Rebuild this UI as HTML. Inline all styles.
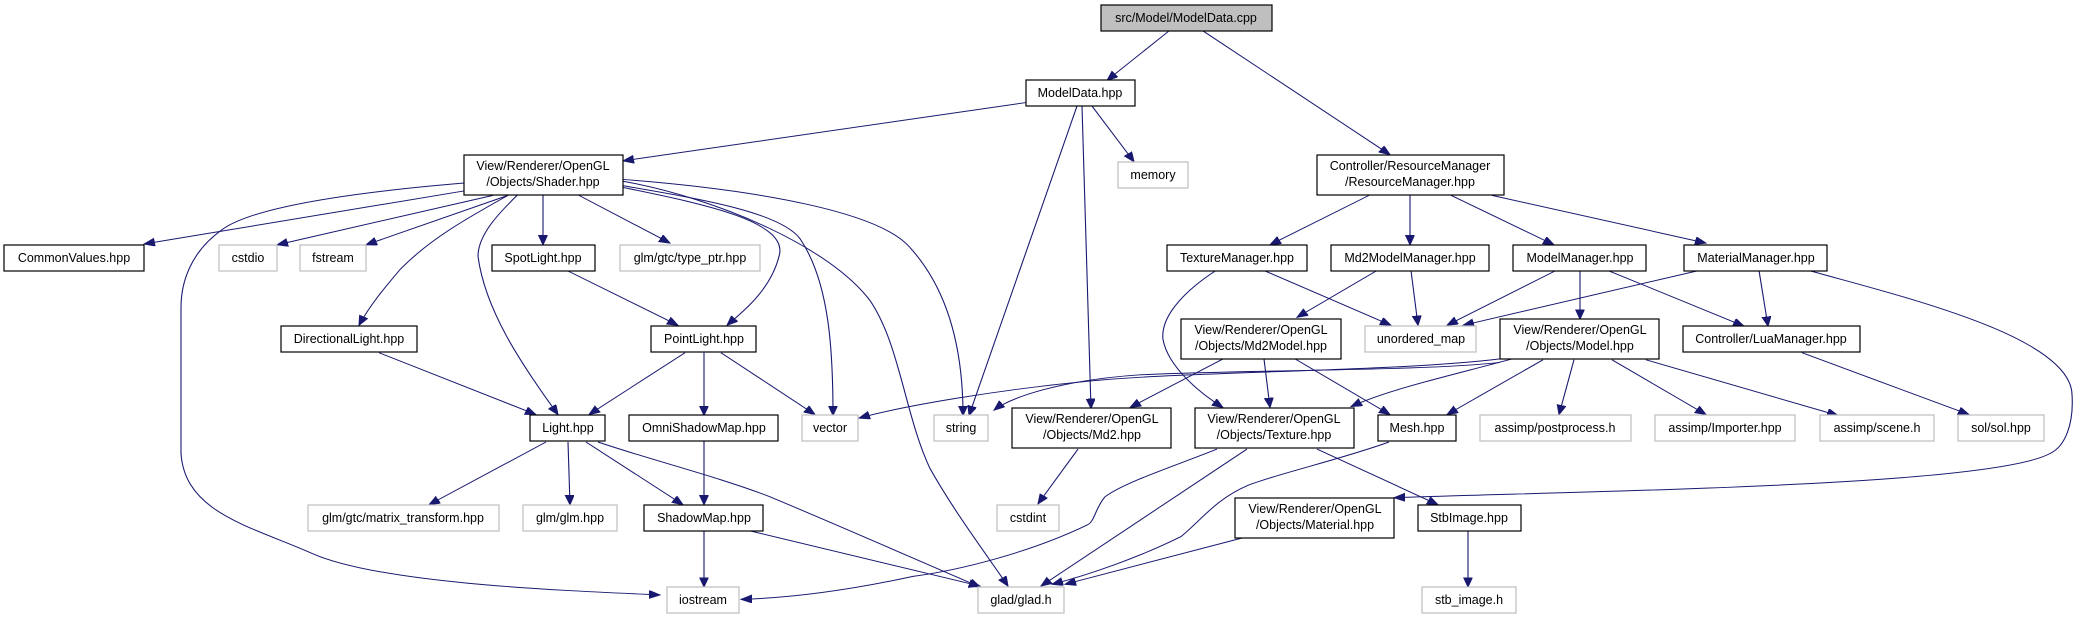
<!DOCTYPE html>
<html><head><meta charset="utf-8"><style>
html,body{margin:0;padding:0;background:#fff;overflow:hidden;}
svg{display:block;}
text{font-family:"Liberation Sans",Arial,sans-serif;font-size:12.5px;fill:#000;text-anchor:middle;}
.b{fill:#fff;stroke:#000;stroke-width:1.2;}
.g{fill:#fff;stroke:#bfbfbf;stroke-width:1.2;}
.e{fill:none;stroke:#191970;stroke-width:1.1;}
</style></head><body>
<svg width="2080" height="619" viewBox="0 0 2080 619" xmlns="http://www.w3.org/2000/svg">
<defs><marker id="a" markerUnits="userSpaceOnUse" markerWidth="12" markerHeight="10" refX="11" refY="4.5" orient="auto"><path d="M0,0 L11,4.5 L0,9 z" fill="#191970" stroke="#191970"/></marker></defs>
<g class="e" marker-end="url(#a)" transform="scale(1,0.884)">
<path d="M1169,35 L1107,91"/>
<path d="M1203,35 L1390,175"/>
<path d="M1026,116 L623,182"/>
<path d="M1092,120 L1134,183"/>
<path d="M1077,120 L969,470"/>
<path d="M1082,120 L1091,462"/>
<path d="M464,216 L144,276"/>
<path d="M493,221 L277,277"/>
<path d="M508,221 L366,277"/>
<path d="M508,221 C470,245 430,270 400,305 C385,325 370,345 359,368"/>
<path d="M517,221 C500,240 478,265 478,290 C485,350 520,410 558,469"/>
<path d="M543,221 L543,277"/>
<path d="M579,221 L670,275"/>
<path d="M623,212 C700,230 790,250 779,290 C770,330 740,355 727,368"/>
<path d="M623,210 C700,225 780,240 800,270 C830,320 833,400 833,470"/>
<path d="M623,205 C720,225 830,280 870,340 C900,390 905,470 930,530 C955,580 985,625 1008,663"/>
<path d="M623,203 C760,215 880,240 910,280 C950,330 963,400 963,470"/>
<path d="M464,207 C380,215 260,230 223,259 C190,285 181,320 181,348 L181,513 C185,580 250,595 312,626 C380,660 560,668 660,673"/>
<path d="M567,306 L678,368"/>
<path d="M685,399 L589,469"/>
<path d="M721,399 L815,469"/>
<path d="M704,399 L704,470"/>
<path d="M704,499 L704,571"/>
<path d="M379,399 L536,469"/>
<path d="M546,500 L429,571"/>
<path d="M568,500 L570,571"/>
<path d="M586,500 L683,571"/>
<path d="M598,500 C650,520 720,540 770,562 C840,595 920,635 980,664"/>
<path d="M704,600 L704,664"/>
<path d="M748,600 L980,663"/>
<path d="M1369,221 L1270,277"/>
<path d="M1410,221 L1410,277"/>
<path d="M1451,221 L1554,277"/>
<path d="M1492,221 L1706,275"/>
<path d="M1264,306 L1391,368"/>
<path d="M1216,306 C1190,325 1160,355 1163,384 C1168,415 1200,445 1223,461"/>
<path d="M1377,306 L1297,359"/>
<path d="M1411,306 L1418,368"/>
<path d="M1556,306 L1447,368"/>
<path d="M1580,306 L1580,361"/>
<path d="M1608,306 L1744,369"/>
<path d="M1699,306 L1463,368"/>
<path d="M1759,306 L1768,369"/>
<path d="M1809,306 C1900,335 2070,380 2072,446 C2074,480 2065,505 2050,513 C1990,550 1600,555 1394,563"/>
<path d="M1500,406 C1400,420 1200,420 1100,430 C1000,440 900,460 859,473"/>
<path d="M1500,410 C1420,420 1250,418 1140,424 C1060,430 1010,450 994,464"/>
<path d="M1512,406 C1450,425 1390,440 1351,460"/>
<path d="M1543,407 L1447,469"/>
<path d="M1574,407 L1559,469"/>
<path d="M1612,407 L1706,469"/>
<path d="M1646,407 L1838,470"/>
<path d="M1802,399 L1969,469"/>
<path d="M1223,406 L1130,461"/>
<path d="M1264,406 L1270,461"/>
<path d="M1295,406 L1390,469"/>
<path d="M1078,508 L1038,570"/>
<path d="M1217,508 C1180,525 1125,545 1105,562 C1095,575 1095,590 1087,594 C1030,625 960,645 913,652 C860,665 800,676 741,678"/>
<path d="M1247,508 L1041,663"/>
<path d="M1317,508 L1438,571"/>
<path d="M1389,500 C1340,520 1280,535 1248,549 C1215,565 1200,590 1181,607 C1140,630 1090,650 1052,661"/>
<path d="M1244,608 L1065,661"/>
<path d="M1468,600 L1468,664"/>
</g>
<rect x="1101" y="5" width="171" height="26" fill="#bfbfbf" stroke="#000" stroke-width="1.2"/>
<text x="1186" y="22">src/Model/ModelData.cpp</text>
<rect class="b" x="1026" y="80" width="109" height="26"/><text x="1080" y="97">ModelData.hpp</text>
<rect class="g" x="1118" y="162" width="70" height="26"/><text x="1153" y="179">memory</text>
<rect class="b" x="464" y="155" width="159" height="40"/><text x="543" y="170">View/Renderer/OpenGL</text><text x="543" y="186">/Objects/Shader.hpp</text>
<rect class="b" x="1317" y="155" width="187" height="40"/><text x="1410" y="170">Controller/ResourceManager</text><text x="1410" y="186">/ResourceManager.hpp</text>
<rect class="b" x="4" y="245" width="140" height="26"/><text x="74" y="262">CommonValues.hpp</text>
<rect class="g" x="219" y="245" width="58" height="26"/><text x="248" y="262">cstdio</text>
<rect class="g" x="300" y="245" width="66" height="26"/><text x="333" y="262">fstream</text>
<rect class="b" x="492" y="245" width="103" height="26"/><text x="543" y="262">SpotLight.hpp</text>
<rect class="g" x="620" y="245" width="140" height="26"/><text x="690" y="262">glm/gtc/type_ptr.hpp</text>
<rect class="b" x="1167" y="245" width="140" height="26"/><text x="1237" y="262">TextureManager.hpp</text>
<rect class="b" x="1331" y="245" width="158" height="26"/><text x="1410" y="262">Md2ModelManager.hpp</text>
<rect class="b" x="1513" y="245" width="133" height="26"/><text x="1580" y="262">ModelManager.hpp</text>
<rect class="b" x="1684" y="245" width="143" height="26"/><text x="1756" y="262">MaterialManager.hpp</text>
<rect class="b" x="281" y="326" width="136" height="26"/><text x="349" y="343">DirectionalLight.hpp</text>
<rect class="b" x="651" y="326" width="105" height="26"/><text x="704" y="343">PointLight.hpp</text>
<rect class="b" x="1181" y="319" width="160" height="40"/><text x="1261" y="334">View/Renderer/OpenGL</text><text x="1261" y="350">/Objects/Md2Model.hpp</text>
<rect class="g" x="1365" y="326" width="111" height="26"/><text x="1421" y="343">unordered_map</text>
<rect class="b" x="1500" y="319" width="159" height="40"/><text x="1580" y="334">View/Renderer/OpenGL</text><text x="1580" y="350">/Objects/Model.hpp</text>
<rect class="b" x="1683" y="326" width="177" height="26"/><text x="1771" y="343">Controller/LuaManager.hpp</text>
<rect class="b" x="530" y="415" width="75" height="26"/><text x="568" y="432">Light.hpp</text>
<rect class="b" x="629" y="415" width="149" height="26"/><text x="704" y="432">OmniShadowMap.hpp</text>
<rect class="g" x="802" y="415" width="56" height="26"/><text x="830" y="432">vector</text>
<rect class="g" x="934" y="415" width="54" height="26"/><text x="961" y="432">string</text>
<rect class="b" x="1012" y="408" width="159" height="40"/><text x="1092" y="423">View/Renderer/OpenGL</text><text x="1092" y="439">/Objects/Md2.hpp</text>
<rect class="b" x="1195" y="408" width="159" height="40"/><text x="1274" y="423">View/Renderer/OpenGL</text><text x="1274" y="439">/Objects/Texture.hpp</text>
<rect class="b" x="1378" y="415" width="78" height="26"/><text x="1417" y="432">Mesh.hpp</text>
<rect class="g" x="1480" y="415" width="151" height="26"/><text x="1555" y="432">assimp/postprocess.h</text>
<rect class="g" x="1655" y="415" width="140" height="26"/><text x="1725" y="432">assimp/Importer.hpp</text>
<rect class="g" x="1820" y="415" width="114" height="26"/><text x="1877" y="432">assimp/scene.h</text>
<rect class="g" x="1958" y="415" width="86" height="26"/><text x="2001" y="432">sol/sol.hpp</text>
<rect class="g" x="308" y="505" width="191" height="26"/><text x="403" y="522">glm/gtc/matrix_transform.hpp</text>
<rect class="g" x="523" y="505" width="94" height="26"/><text x="570" y="522">glm/glm.hpp</text>
<rect class="b" x="644" y="505" width="119" height="26"/><text x="704" y="522">ShadowMap.hpp</text>
<rect class="g" x="997" y="505" width="62" height="26"/><text x="1028" y="522">cstdint</text>
<rect class="b" x="1235" y="498" width="159" height="40"/><text x="1315" y="513">View/Renderer/OpenGL</text><text x="1315" y="529">/Objects/Material.hpp</text>
<rect class="b" x="1418" y="505" width="103" height="26"/><text x="1469" y="522">StbImage.hpp</text>
<rect class="g" x="667" y="587" width="72" height="26"/><text x="703" y="604">iostream</text>
<rect class="g" x="978" y="587" width="86" height="26"/><text x="1021" y="604">glad/glad.h</text>
<rect class="g" x="1422" y="587" width="94" height="26"/><text x="1469" y="604">stb_image.h</text>
</svg>
</body></html>
